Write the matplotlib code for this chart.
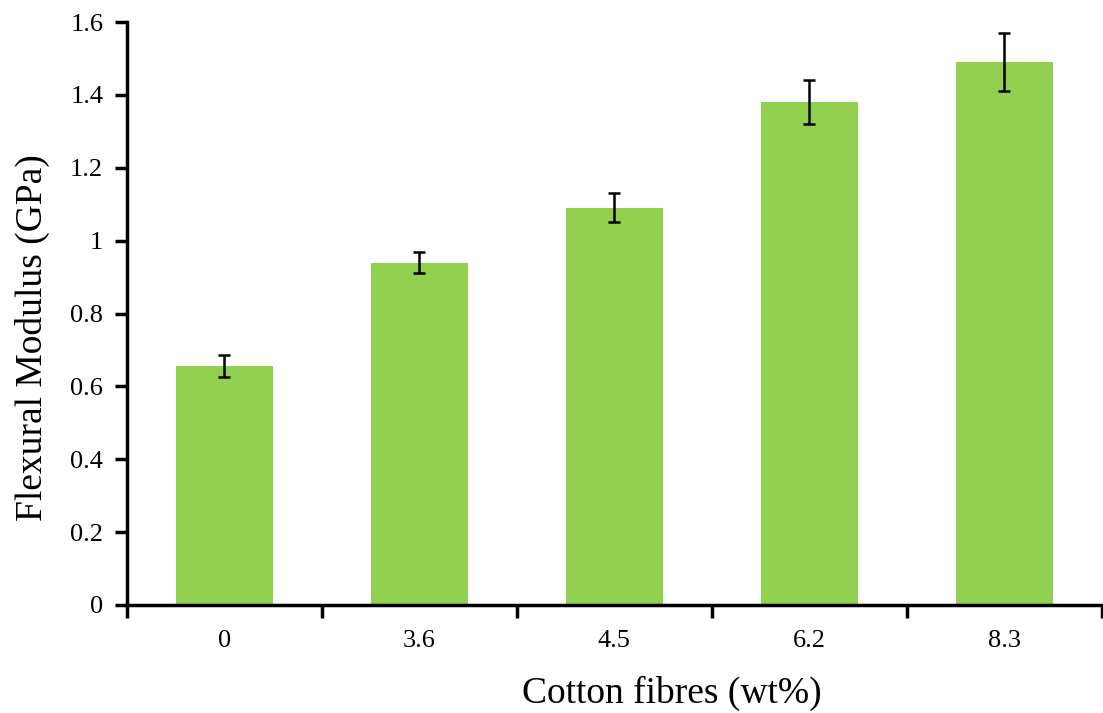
import numpy as np
import matplotlib.pyplot as plt

# data
fibre = ['0', '3.6', '4.5', '6.2', '8.3']
modulus = [0.655, 0.94, 1.09, 1.38, 1.49]
err = [0.03, 0.03, 0.04, 0.06, 0.08]

plt.rcParams['font.family'] = ['Liberation Serif', 'DejaVu Serif']

fig = plt.figure(figsize=(11.03, 7.13), dpi=100)
ax = fig.add_axes([0.115, 0.1515, 0.884, 0.8175])

x = np.arange(len(fibre))
ax.bar(x, modulus, width=0.5, color='#92D050', zorder=2)
ax.errorbar(x, modulus, yerr=err, fmt='none', ecolor='black',
            elinewidth=1.8, capsize=4.5, capthick=1.8, zorder=3)

ax.set_xlim(-0.5, len(fibre) - 0.5)
ax.set_ylim(0, 1.6)
ax.set_yticks(np.arange(0, 1.61, 0.2))
ax.set_yticklabels(['0', '0.2', '0.4', '0.6', '0.8', '1', '1.2', '1.4', '1.6'])
ax.set_xticks(x)
ax.set_xticklabels(fibre)
ax.set_xticks(np.arange(-0.5, len(fibre)), minor=True)
ax.tick_params(axis='x', which='major', length=0, pad=18, labelsize=19)
ax.tick_params(axis='x', which='minor', length=9, width=2.5, direction='out')
ax.tick_params(axis='y', length=9, width=2.5, direction='out', pad=8, labelsize=19)

for s in ['top', 'right']:
    ax.spines[s].set_visible(False)
for s in ['left', 'bottom']:
    ax.spines[s].set_linewidth(2.5)

ax.set_xlabel('Cotton fibres (wt%)', fontsize=27)
ax.set_ylabel('Flexural Modulus (GPa)', fontsize=27)
# labels sit off-centre in the original
ax.xaxis.set_label_coords(0.559, -0.122)
ax.yaxis.set_label_coords(-0.079, 0.458)

plt.savefig('out.png', dpi=100)
